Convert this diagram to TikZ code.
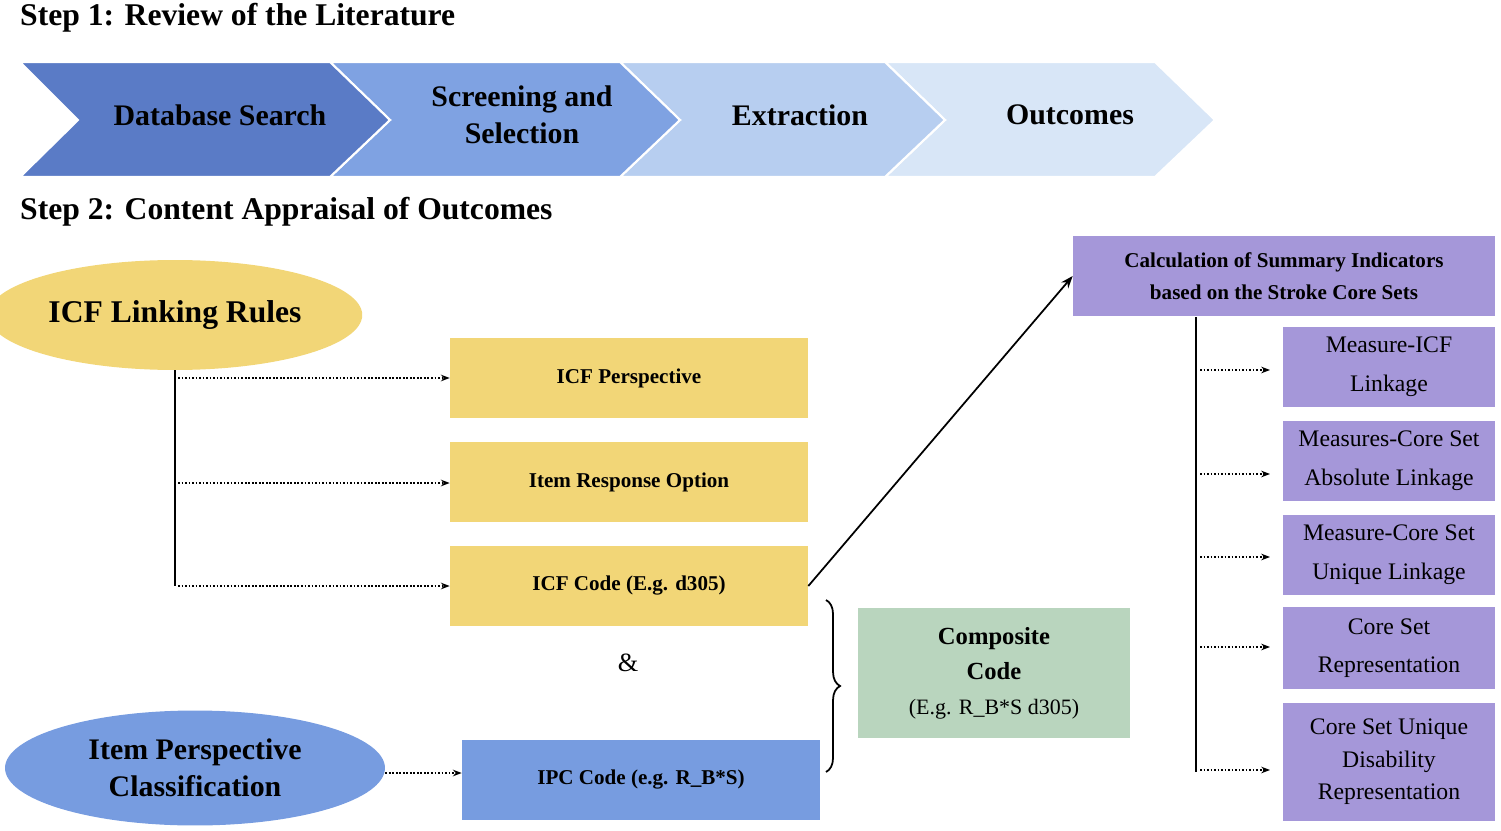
\documentclass[tikz,border=0pt]{standalone}
\usepackage{fontspec}
\setmainfont{Liberation Serif}
\usepackage{tikz}
\usetikzlibrary{positioning,arrows.meta,shapes.geometric,decorations.pathreplacing}

\definecolor{chevA}{HTML}{5A7BC6}
\definecolor{chevB}{HTML}{7FA2E2}
\definecolor{chevC}{HTML}{B7CEF0}
\definecolor{chevD}{HTML}{D8E6F7}
\definecolor{icfyel}{HTML}{F2D677}
\definecolor{ipcblue}{HTML}{779CE0}
\definecolor{compgreen}{HTML}{B9D5BE}
\definecolor{sumpurple}{HTML}{A597D9}

\tikzset{
  bfs/.style={font=\bfseries\fontsize{#1}{\the\numexpr#1*5/4\relax pt}\selectfont},
  chev/.style={fill=#1, draw=white, line width=1.2pt},
  ybox/.style={fill=icfyel, minimum width=7.16cm, minimum height=1.6cm, font=\bfseries\fontsize{12}{15}\selectfont},
  pbox/.style={fill=sumpurple, minimum width=4.24cm, align=center, font=\fontsize{13.5}{22}\selectfont},
  dotarrow/.style={densely dotted, line width=1pt, -{Stealth[length=5pt]}},
}

\begin{document}
\begin{tikzpicture}[x=0.02cm,y=-0.02cm]
\useasboundingbox (0,0) rectangle (1501,831);

% step 1
\node[anchor=west, bfs=18] (title1) at (14,18) {Step 1: Review of the Literature};

\draw[chev=chevD] (885,62) -- (1155,62) -- (1215,120) -- (1155,177) -- (885,177) -- (945,120) -- cycle;
\draw[chev=chevC] (620,62) -- (885,62) -- (945,120) -- (885,177) -- (620,177) -- (680,120) -- cycle;
\draw[chev=chevB] (330,62) -- (620,62) -- (680,120) -- (620,177) -- (330,177) -- (390,120) -- cycle;
\draw[chev=chevA] (20,62) -- (330,62) -- (390,120) -- (330,177) -- (20,177) -- (78,120) -- cycle;

\node[bfs=17] (search) at (220,115) {Database Search};
\node[bfs=17, align=center] (screen) at (522,115) {Screening and\\Selection};
\node[bfs=17] (extract) at (800,115) {Extraction};
\node[bfs=17] (outcome) at (1070,115) {Outcomes};

% step 2
\node[anchor=west, bfs=18] (title2) at (14,212) {Step 2: Content Appraisal of Outcomes};

\node[ellipse, fill=icfyel, minimum width=6.8cm, minimum height=2.2cm, bfs=18] (rules) at (175,315) {ICF Linking Rules};
\node[ybox] (persp) at (629,378) {ICF Perspective};
\node[ybox] (resp) at (629,482) {Item Response Option};
\node[ybox] (code) at (629,586) {ICF Code (E.g. d305)};

\coordinate (trunk) at (175,370);
\draw[line width=1pt] (trunk) -- (175,586);
\draw[dotarrow] (178,378) -- (persp.west);
\draw[dotarrow] (178,483) -- (resp.west |- 0,483);
\draw[dotarrow] (178,586) -- (code.west);

\node[font=\fontsize{15}{18}\selectfont] (amp) at (628,663) {\&};

\node[ellipse, fill=ipcblue, minimum width=7.6cm, minimum height=2.3cm, bfs=17, align=center] (ipc) at (195,768) {Item Perspective\\Classification};
\node[fill=ipcblue, minimum width=7.16cm, minimum height=1.6cm, font=\bfseries\fontsize{12}{15}\selectfont] (ipccode) at (641,780) {IPC Code (e.g. R\_B*S)};
\draw[dotarrow] (ipc.east |- 0,773) -- (ipccode.west |- 0,773);

\draw[decorate, decoration={brace, amplitude=8pt}, line width=1pt] (826,600) -- (826,772);

\node[fill=compgreen, minimum width=5.44cm, minimum height=2.6cm, align=center, font=\fontsize{14}{20}\selectfont] (comp) at (994,673) {\textbf{Composite}\\\textbf{Code}\\{\fontsize{12.5}{20}\selectfont(E.g. R\_B*S d305)}};

% summary indicators
\node[fill=sumpurple, minimum width=8.44cm, minimum height=1.62cm, align=center, font=\bfseries\fontsize{12}{18}\selectfont] (calc) at (1284,276) {Calculation of Summary Indicators\\based on the Stroke Core Sets};
\draw[line width=1pt, -{Stealth[length=7pt]}] (code.east) -- (calc.west);

\node[pbox, minimum height=1.62cm] (m1) at (1389,367) {Measure-ICF\\Linkage};
\node[pbox, minimum height=1.62cm] (m2) at (1389,461) {Measures-Core Set\\Absolute Linkage};
\node[pbox, minimum height=1.62cm] (m3) at (1389,555) {Measure-Core Set\\Unique Linkage};
\node[pbox, minimum height=1.66cm] (m4) at (1389,648) {Core Set\\Representation};
\node[pbox, minimum height=2.38cm, font=\fontsize{13.5}{18.5}\selectfont] (m5) at (1389,762) {Core Set Unique\\Disability\\Representation};

\coordinate (bar) at (1196,317);
\draw[line width=1pt] (bar) -- (1196,772);
\foreach \y in {370,474,557,647,770}
  \draw[dotarrow] (1200,\y) -- (1270,\y);
\end{tikzpicture}
\end{document}
